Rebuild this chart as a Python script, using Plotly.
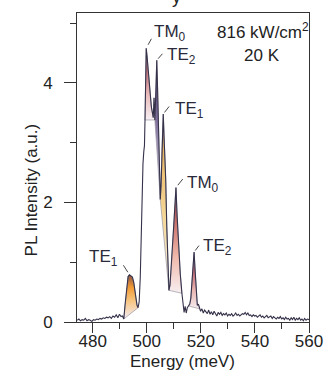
import plotly.graph_objects as go

# ---------------- data ----------------
energy = [
    474.3, 474.9, 475.5, 476.1, 476.7, 477.3, 477.9, 478.5, 479.1, 479.7,
    480.3, 480.9, 481.5, 482.1, 482.7, 483.3, 483.9, 484.5, 485.1, 485.7,
    486.3, 486.9, 487.5, 488.1, 488.7, 489.3, 489.9, 490.5, 491.0,
    491.5, 492.0, 492.6, 493.1, 493.6, 494.1, 494.7, 495.2, 495.6, 496.0,
    496.4, 496.8, 497.2, 497.6, 498.0, 498.3, 498.6, 498.9, 499.15, 499.35,
    499.55, 499.8, 500.1, 500.5, 500.9, 501.3, 501.7, 502.1, 502.4, 502.7,
    503.0, 503.4, 503.7, 504.0, 504.3, 504.6, 505.0, 505.3, 505.6, 505.85,
    506.1, 506.4, 506.7, 507.0, 507.4, 507.8, 508.2, 508.6, 509.0, 509.4,
    509.9, 510.3, 510.8, 511.2, 511.6, 512.0, 512.4, 513.0, 513.4, 513.8,
    514.2, 514.6, 515.0, 515.4, 515.9, 516.3, 516.7, 517.1, 517.5, 517.9,
    518.3, 518.7, 519.1, 519.5,
    519.9, 520.4, 520.9, 521.4, 521.9, 522.4, 522.9, 523.4, 523.9, 524.4,
    524.9, 525.4, 525.9, 526.4, 526.9, 527.4, 527.9, 528.4, 528.9, 529.4,
    529.9, 530.4, 530.9, 531.4, 531.9, 532.4, 532.9, 533.4, 533.9, 534.4,
    534.9, 535.4, 535.9, 536.4, 536.9, 537.4, 537.9, 538.4, 538.9, 539.4,
    539.9, 540.4, 540.9, 541.4, 541.9, 542.4, 542.9, 543.4, 543.9, 544.4,
    544.9, 545.4, 545.9, 546.4, 546.9, 547.4, 547.9, 548.4, 548.9, 549.4,
    549.9, 550.4, 550.9, 551.4, 551.9, 552.4, 552.9, 553.4, 553.9, 554.4,
    554.9, 555.4, 555.9, 556.4, 556.9, 557.4, 557.9, 558.4, 558.9, 559.4,
    560.0,
]
intensity = [
    0.03, 0.05, 0.02, 0.04, 0.03, 0.06, 0.02, 0.04, 0.03, 0.01,
    0.04, 0.03, 0.05, 0.04, 0.06, 0.05, 0.07, 0.06, 0.08, 0.07,
    0.09, 0.06, 0.10, 0.08, 0.12, 0.07, 0.13, 0.09, 0.10,
    0.05, 0.30, 0.62, 0.76, 0.79, 0.77, 0.75, 0.66, 0.55, 0.38,
    0.28, 0.24, 0.34, 0.75, 1.45, 2.30, 2.65, 2.85, 2.95, 3.38,
    4.00, 4.58, 4.45, 4.20, 3.95, 3.75, 3.60, 3.50, 3.42, 3.75,
    3.38, 3.90, 4.38, 3.90, 3.45, 2.60, 2.05, 2.30, 2.90, 3.20,
    3.48, 3.10, 2.80, 2.40, 1.60, 0.90, 0.53, 0.62, 0.85, 1.20,
    1.56, 1.90, 2.25, 1.80, 1.42, 1.10, 0.80, 0.48, 0.30, 0.16,
    0.26, 0.15, 0.24, 0.27, 0.30, 0.40, 0.70, 1.05, 1.17, 0.85,
    0.45, 0.28, 0.30, 0.22,
    0.18, 0.22, 0.15, 0.20, 0.17, 0.14, 0.20, 0.13, 0.17, 0.12,
    0.18, 0.15, 0.10, 0.16, 0.13, 0.16, 0.11, 0.14, 0.12, 0.15,
    0.10, 0.13, 0.11, 0.14, 0.10, 0.12, 0.15, 0.11, 0.13, 0.10,
    0.12, 0.14, 0.13, 0.16, 0.12, 0.15, 0.11, 0.12, 0.09, 0.12,
    0.10, 0.11, 0.08, 0.11, 0.12, 0.08, 0.10, 0.07, 0.09, 0.11,
    0.07, 0.08, 0.10, 0.06, 0.09, 0.07, 0.05, 0.08, 0.06, 0.09,
    0.05, 0.07, 0.04, 0.08, 0.05, 0.06, 0.03, 0.07, 0.04, 0.08,
    0.03, 0.06, 0.04, 0.07, 0.03, 0.05, 0.02, 0.06, 0.03, 0.05,
    0.04,
]

# peaks: label, peak energy, shaded segment start / end energies
peak_labels = ["TE<sub>1</sub>", "TM<sub>0</sub>", "TE<sub>2</sub>",
               "TE<sub>1</sub>", "TM<sub>0</sub>", "TE<sub>2</sub>"]
peak_energy = [493.6, 499.8, 503.7, 506.1, 510.8, 517.5]
fill_start = [491.5, 499.35, 503.0, 505.0, 508.2, 515.4]
fill_end = [496.8, 503.0, 505.0, 508.2, 513.0, 519.5]

x_ticks = [480, 500, 520, 540, 560]
x_minor = [490, 510, 530, 550]
y_ticks = [0, 2, 4]
y_minor = [1, 3, 5]

# ---------------- styling ----------------
FONT = "Liberation Sans, Arial, Helvetica, sans-serif"
LINE = "#35324a"
AX = "#333333"

fill_scales = [
    [[0, "#f2ecf5"], [0.4, "#f7c784"], [0.72, "#f19a34"], [1, "#8a5448"]],
    [[0, "#f6eff3"], [0.35, "#ebbcbc"], [0.75, "#b85e66"], [1, "#7a2f45"]],
    [[0, "#dcd5e8"], [0.6, "#7c6a98"], [1, "#3c2c58"]],
    [[0, "#f5efe8"], [0.4, "#f5d999"], [0.8, "#eab766"], [1, "#8a6a6a"]],
    [[0, "#f7eff1"], [0.35, "#f0b8aa"], [0.7, "#c66a64"], [1, "#6e2440"]],
    [[0, "#f5edf0"], [0.35, "#e8b0ac"], [0.75, "#b5525f"], [1, "#6a2040"]],
]

# label / leader geometry (pixel offsets from the peak point)
label_anchor = ["right", "left", "left", "left", "left", "left"]
label_dx = [-9, 6, 8, 10, 9, 7]
label_dy = [17, 15, 4, 4, 4, 5]
leader_ax = [-7, 6, 7, 7, 8, 6]
leader_ay = [-11, -11, -8, -9, -10, -8]
leader_standoff = [3, 4, 2, 2, 3, 2]

fig = go.Figure()

# shaded peak areas (between curve and straight chord)
for s, e, cs in zip(fill_start, fill_end, fill_scales):
    i0 = energy.index(s)
    i1 = energy.index(e)
    xs = energy[i0:i1 + 1] + [energy[i0]]
    ys = intensity[i0:i1 + 1] + [intensity[i0]]
    fig.add_trace(go.Scatter(
        x=xs, y=ys, mode="lines", fill="toself",
        line=dict(color="#9a96a4", width=0.7),
        fillgradient=dict(type="vertical", colorscale=cs),
        hoverinfo="skip",
    ))

# spectrum
fig.add_trace(go.Scatter(
    x=energy, y=intensity, mode="lines",
    line=dict(color=LINE, width=1.1),
))

annotations = []
for lab, pe, anc, dx, dy, ax, ay, so in zip(peak_labels, peak_energy, label_anchor,
                                             label_dx, label_dy, leader_ax,
                                             leader_ay, leader_standoff):
    py = intensity[energy.index(pe)]
    annotations.append(dict(
        x=pe, y=py, xref="x", yref="y", text="", showarrow=True,
        arrowhead=0, arrowwidth=0.9, arrowcolor="#333", ax=ax, ay=ay,
        standoff=so,
    ))
    annotations.append(dict(
        x=pe, y=py, xref="x", yref="y", text=lab, showarrow=False,
        xanchor=anc, yanchor="middle", xshift=dx, yshift=dy,
        font=dict(family=FONT, size=17, color="#2a2a3a"),
    ))

annotations += [
    dict(x=0.803, y=0.941, xref="paper", yref="paper",
         xanchor="center", yanchor="middle",
         text="816 kW/cm<sup>2</sup>", showarrow=False,
         font=dict(family=FONT, size=17, color="#222")),
    dict(x=0.799, y=0.861, xref="paper", yref="paper", text="20 K",
         xanchor="center", yanchor="middle",
         showarrow=False, font=dict(family=FONT, size=17, color="#222")),
    dict(x=0.455, y=-0.1288, xref="paper", yref="paper", text="Energy (meV)",
         xanchor="center", yanchor="middle",
         showarrow=False, font=dict(family=FONT, size=17, color="#222")),
    dict(x=-0.198, y=0.426, xref="paper", yref="paper",
         xanchor="center", yanchor="middle",
         text="PL Intensity (a.u.)", textangle=-90, showarrow=False,
         font=dict(family=FONT, size=17, color="#222")),
    dict(x=0.43, y=1, xref="paper", yref="paper", text="y", showarrow=False,
         xanchor="center", yanchor="middle", yshift=16,
         font=dict(family=FONT, size=18, color="#222")),
]

fig.update_layout(
    width=335, height=377,
    margin=dict(l=77, r=19, t=13, b=55),
    paper_bgcolor="white", plot_bgcolor="white",
    showlegend=False,
    font=dict(family=FONT, size=17, color="#222"),
    annotations=annotations,
    xaxis=dict(
        range=[474.2, 560], tickvals=x_ticks,
        ticks="outside", ticklen=10, tickwidth=1, tickcolor=AX,
        ticklabelstandoff=-6,
        showline=True, linecolor=AX, linewidth=1, mirror=True,
        showgrid=False, zeroline=False,
        minor=dict(tickvals=x_minor, ticks="outside",
                   ticklen=6, tickcolor=AX, showgrid=False),
        tickfont=dict(family=FONT, size=17, color="#222"),
    ),
    yaxis=dict(
        range=[0, 5.17], tickvals=y_ticks,
        ticks="outside", ticklen=12, tickwidth=1, tickcolor=AX,
        ticklabelstandoff=8,
        showline=True, linecolor=AX, linewidth=1, mirror=True,
        showgrid=False, zeroline=False,
        minor=dict(tickvals=y_minor, ticks="outside", ticklen=6,
                   tickcolor=AX, showgrid=False),
        tickfont=dict(family=FONT, size=17, color="#222"),
    ),
)

fig.write_html("out.html")
